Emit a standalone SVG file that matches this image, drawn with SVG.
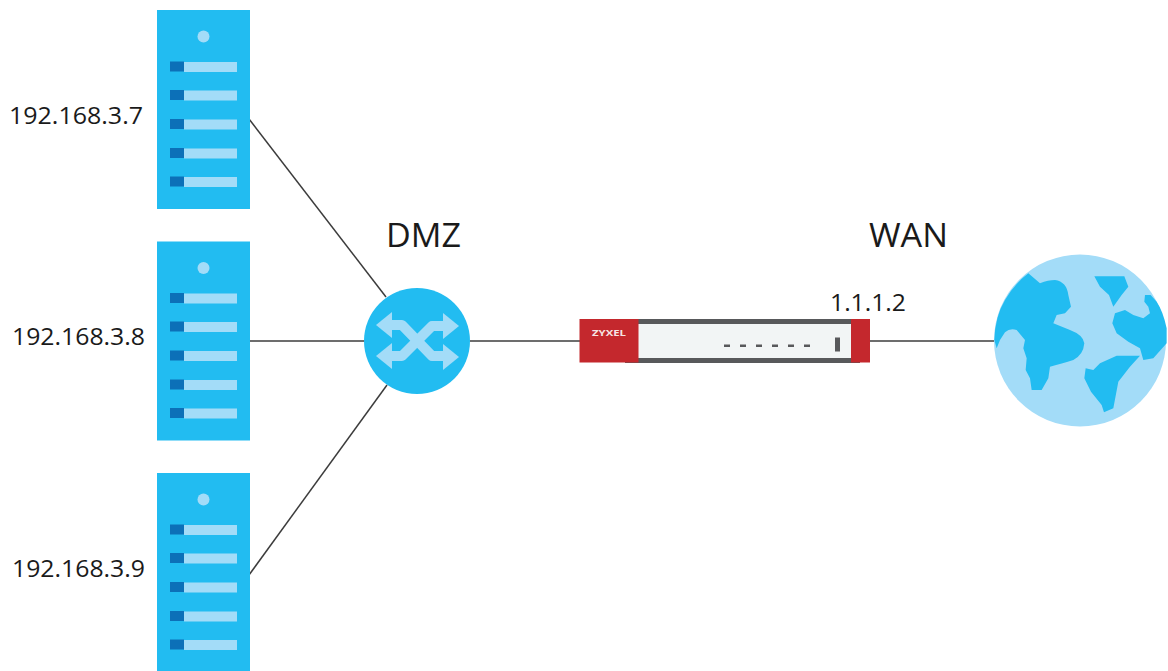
<svg xmlns="http://www.w3.org/2000/svg" width="1168" height="671" viewBox="0 0 1168 671">
<style>
.body{fill:#22bcf1}.pale{fill:#a3dcf8}.dark{fill:#0c70b8}.red{fill:#c4282d}.steel{fill:#58595b}
.link{stroke:#3c3c3c;stroke-width:1.5;fill:none}
.band{stroke:#a3dcf8;stroke-width:10;fill:none;stroke-linejoin:round}
text{font-family:"Open Sans","Noto Sans",sans-serif;fill:#1a1a1a}
.ip{font-size:23px}.zone{font-size:32px}
</style>
<defs>
<g id="server">
<rect class="body" x="157" y="10" width="93" height="199"/>
<circle class="pale" cx="203.500" cy="36.500" r="6"/>
<rect class="dark" x="170" y="61.500" width="14" height="10"/><rect class="pale" x="184" y="62" width="53" height="10"/>
<rect class="dark" x="170" y="90" width="14" height="10"/><rect class="pale" x="184" y="90.500" width="53" height="10"/>
<rect class="dark" x="170" y="119" width="14" height="10"/><rect class="pale" x="184" y="119.500" width="53" height="10"/>
<rect class="dark" x="170" y="148" width="14" height="10"/><rect class="pale" x="184" y="148.500" width="53" height="10"/>
<rect class="dark" x="170" y="176.500" width="14" height="10"/><rect class="pale" x="184" y="177" width="53" height="10"/>
</g>
</defs>
<rect width="1168" height="671" fill="#fff"/>
<g id="connectors">
<line class="link" x1="249" y1="119" x2="386" y2="297"/>
<line class="link" x1="249" y1="341" x2="365" y2="341"/>
<line class="link" x1="249" y1="575" x2="387" y2="385"/>
<line class="link" x1="470" y1="341" x2="581" y2="341"/>
<line class="link" x1="869" y1="341" x2="996" y2="341"/>
</g>
<g id="server-1"><use href="#server"/><text class="ip" x="9" y="124" textLength="134" lengthAdjust="spacingAndGlyphs">192.168.3.7</text></g>
<g id="server-2"><use href="#server" y="231.500"/><text class="ip" x="12" y="345" textLength="133" lengthAdjust="spacingAndGlyphs">192.168.3.8</text></g>
<g id="server-3"><use href="#server" y="463"/><text class="ip" x="12" y="577" textLength="133" lengthAdjust="spacingAndGlyphs">192.168.3.9</text></g>
<g id="switch">
<circle class="body" cx="417" cy="341" r="53"/>
<path class="band" d="M390 325H402L432 356H445"/>
<path class="band" d="M390 356H402L432 326H445"/>
<g class="pale">
<path d="M376 325L392 312V338Z"/>
<path d="M376 356L392 343V369Z"/>
<path d="M459 326L443 313V339Z"/>
<path d="M459 357L443 344V370Z"/>
</g>
<text class="zone" x="386" y="247" textLength="75" lengthAdjust="spacingAndGlyphs">DMZ</text>
</g>
<g id="firewall">
<rect class="steel" x="625" y="319" width="235" height="44"/>
<rect x="638" y="324" width="213" height="34" fill="#f2f5f5"/>
<rect class="red" x="579.500" y="319" width="59" height="43.500"/>
<rect class="red" x="851" y="319" width="19" height="43.500"/>
<text x="592" y="336" font-size="9" font-weight="700" style="fill:#f6e4e4" textLength="34" lengthAdjust="spacingAndGlyphs">ZYXEL</text>
<g class="steel">
<rect x="724" y="344.500" width="6" height="2.500"/><rect x="740" y="344.500" width="6" height="2.500"/><rect x="756" y="344.500" width="6" height="2.500"/><rect x="772" y="344.500" width="6" height="2.500"/><rect x="788" y="344.500" width="6" height="2.500"/><rect x="804" y="344.500" width="6" height="2.500"/>
<rect x="835" y="337.500" width="5" height="14"/>
</g>
<text class="ip" x="830" y="311" textLength="76" lengthAdjust="spacingAndGlyphs">1.1.1.2</text>
<text class="zone" x="869" y="247" textLength="79" lengthAdjust="spacingAndGlyphs">WAN</text>
</g>
<g id="globe">
<circle class="pale" cx="1080" cy="340.500" r="86"/>
<g class="body" transform="translate(985 245) scale(.3333)">
<path d="M130 85L165 115Q190 105 210 105Q245 110 250 150L258 185L240 205L215 210L205 235L255 255Q295 270 298 295Q295 330 265 345Q225 358 195 365L190 400L170 435H140L135 400L122 375L125 340L115 310L120 285L95 255Q75 248 60 262L45 285L35 310L28 285Q30 215 60 165Q90 115 130 85Z"/>
<path d="M328 94H418L430 125L410 150L385 185L372 150L345 125Z"/>
<path d="M480 150H497L515 170Q535 200 545 250V295L505 340L475 345L465 310L430 290L395 265L382 235L390 205L420 195L445 210L475 220L495 205L490 185L478 170Z"/>
<path d="M395 332H465L435 365L400 410L385 490L357 502L350 480L318 440L298 400L302 370L325 375L345 355Z"/>
</g>
</g>
</svg>
